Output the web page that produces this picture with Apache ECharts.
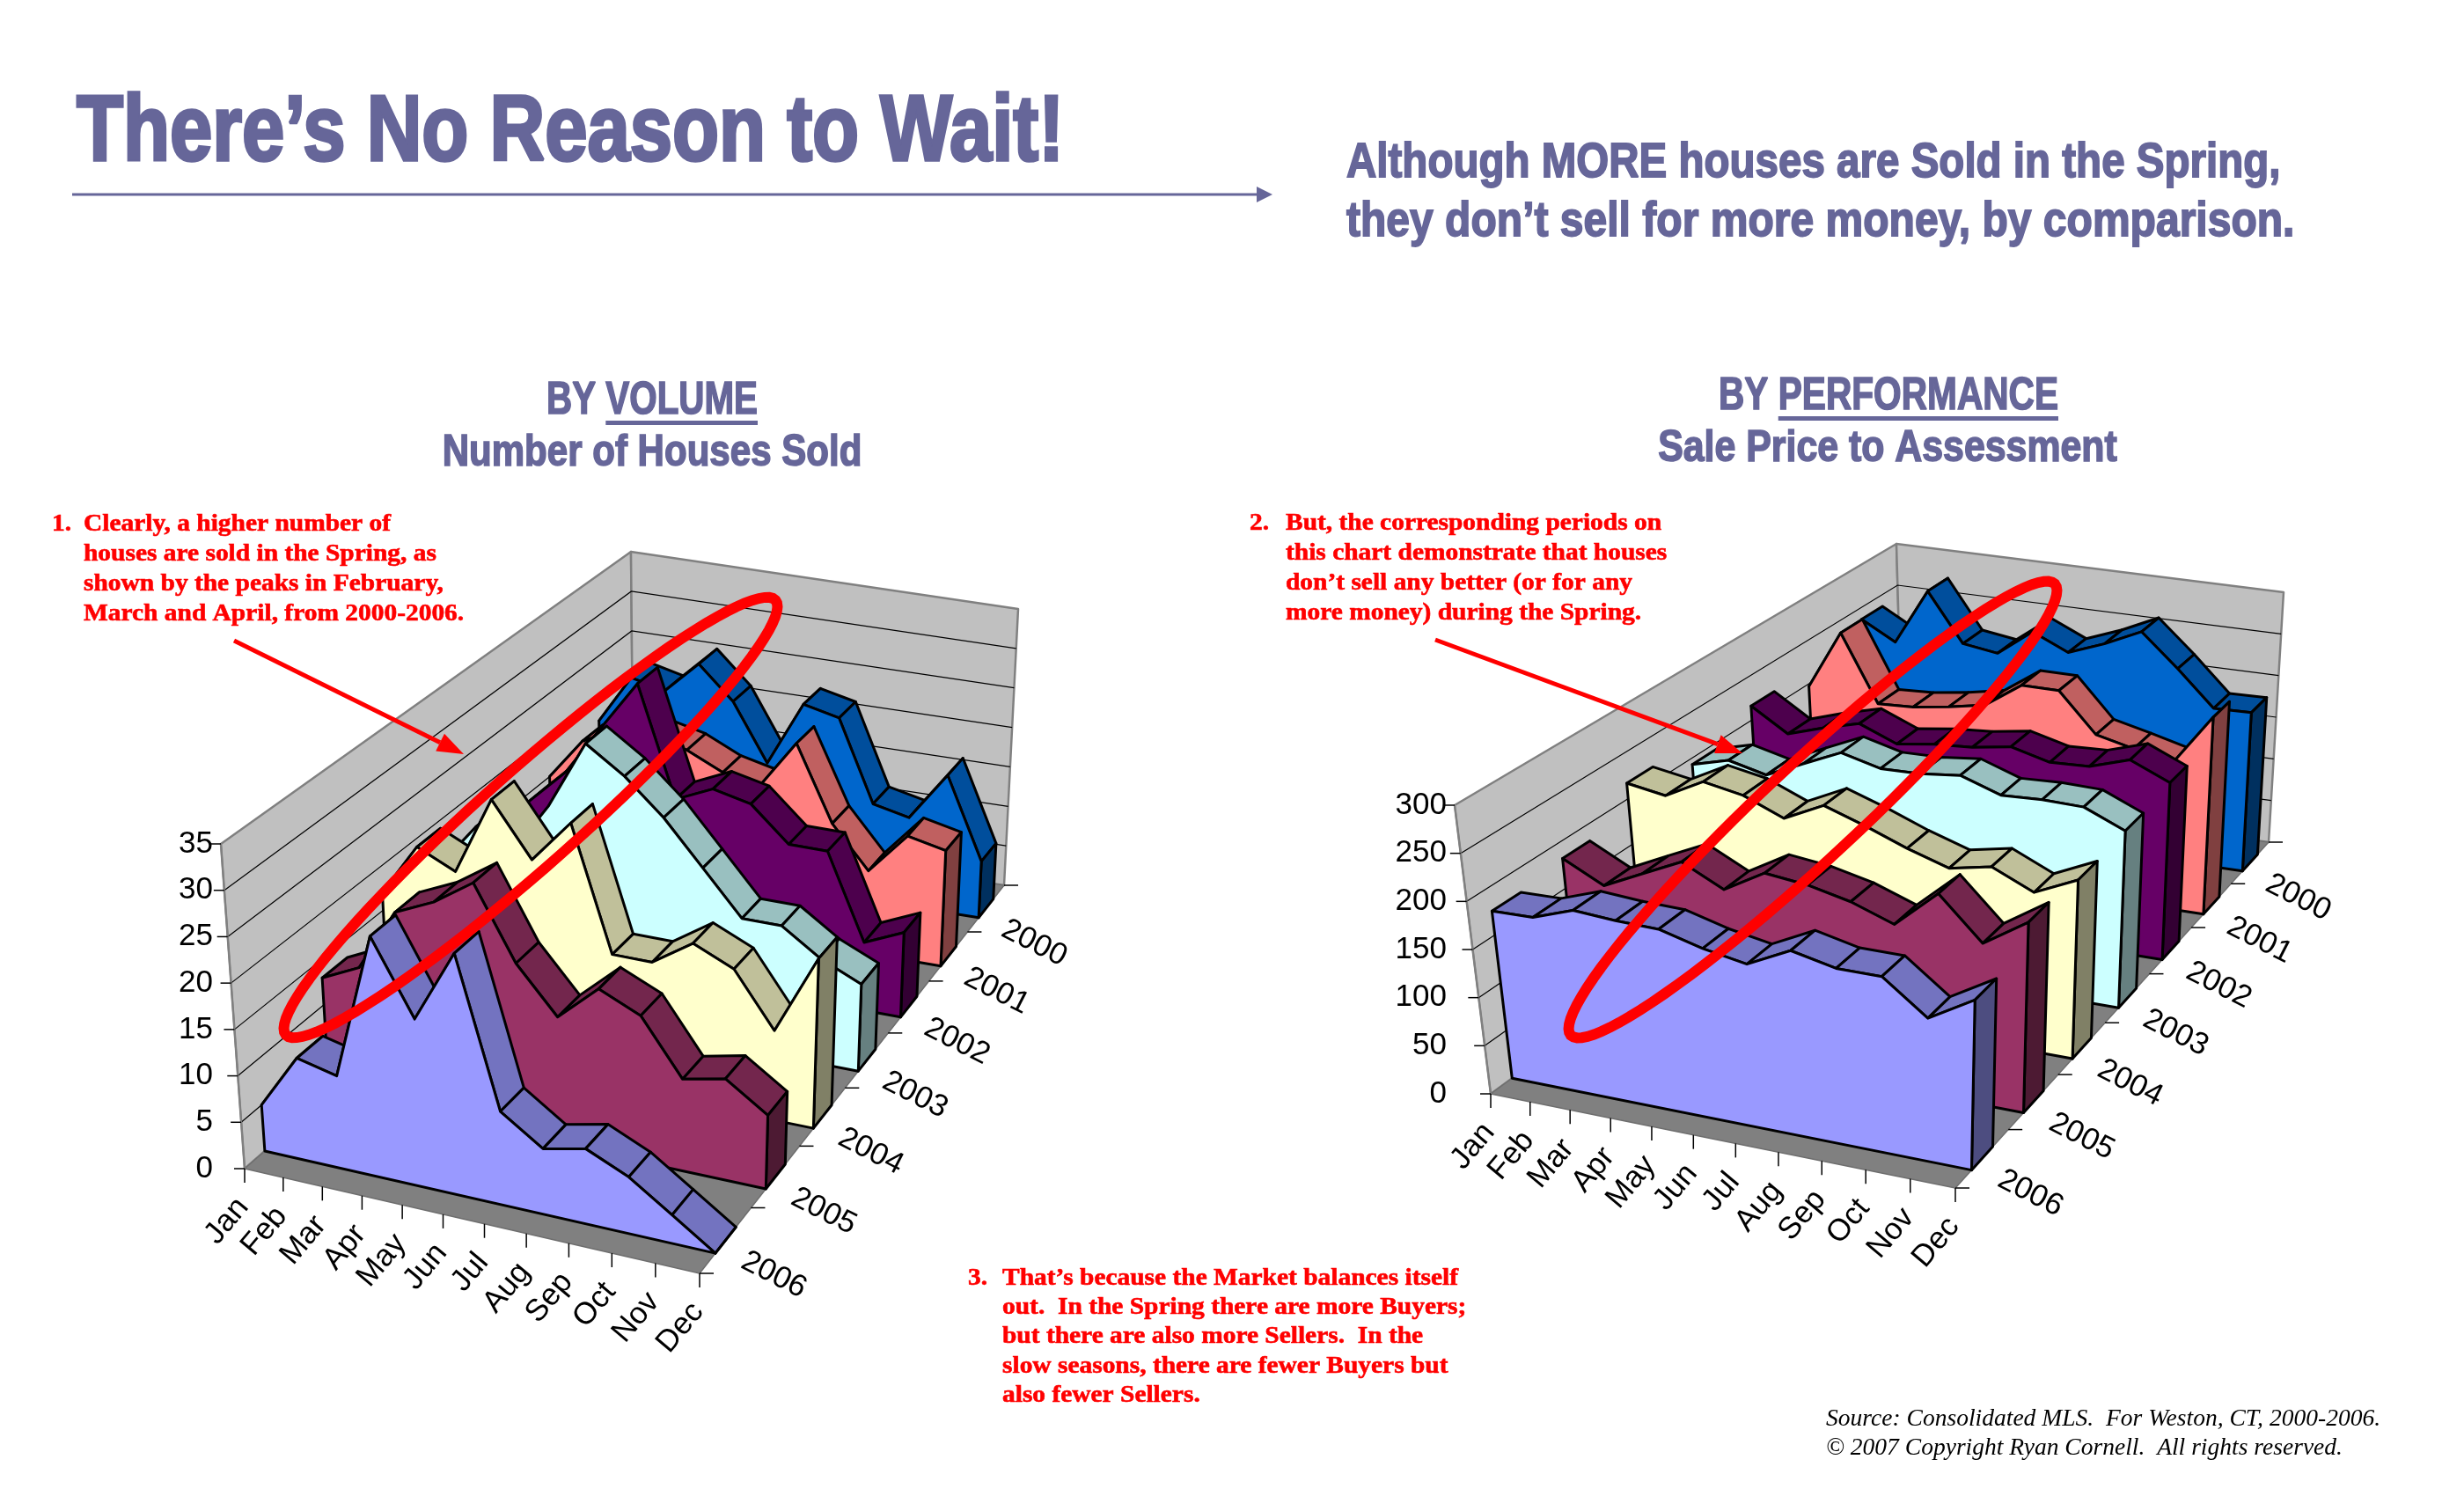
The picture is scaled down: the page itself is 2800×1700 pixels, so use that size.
<!DOCTYPE html>
<html>
<head>
<meta charset="utf-8">
<script src="https://cdn.jsdelivr.net/npm/echarts@6/dist/echarts.min.js"></script>
<style>html,body{margin:0;padding:0;background:#fff}#c{width:2800px;height:1700px}</style>
</head>
<body>
<div id="c"></div>
<script>
// ---------------- DATA ----------------
const months = ['Jan','Feb','Mar','Apr','May','Jun','Jul','Aug','Sep','Oct','Nov','Dec'];
const years = ['2000','2001','2002','2003','2004','2005','2006'];
const volumeTicks = [0,5,10,15,20,25,30,35];
const ratioTicks = [0,50,100,150,200,250,300];

// Number of houses sold
const vol2000 = [17, 23, 22, 26, 22, 15, 23, 22, 12, 11, 17, 7];
const vol2001 = [15, 20, 22, 22, 21, 19, 18, 24, 15, 10, 15, 14];
const vol2002 = [14, 18, 22, 28, 34, 21, 23, 22, 18, 18, 8, 10];
const vol2003 = [15, 20, 18, 24, 32, 29, 25, 20, 15, 15, 12, 10];
const vol2004 = [17, 23, 21, 30, 24, 29, 15, 15, 18, 16, 10, 19];
const vol2005 = [13, 15, 22, 24, 27, 19, 14, 18, 16, 10, 11, 8];
const vol2006 = [5, 11, 10, 26, 18, 26, 10, 7, 8, 6, 3, 0];

// Sale price to assessment
const ratio2000 = [236, 214, 280, 223, 217, 248, 229, 245, 265, 227, 186, 187];
const ratio2001 = [197, 265, 188, 190, 196, 204, 233, 233, 188, 178, 167, 227];
const ratio2002 = [216, 190, 203, 214, 197, 203, 206, 213, 202, 204, 218, 199];
const ratio2003 = [193, 204, 194, 213, 232, 221, 222, 227, 212, 214, 213, 194];
const ratio2004 = [217, 210, 232, 224, 206, 227, 212, 195, 181, 190, 170, 191];
const ratio2005 = [182, 160, 180, 200, 178, 203, 198, 188, 172, 212, 168, 198];
const ratio2006 = [175, 176, 191, 188, 187, 175, 167, 189, 179, 179, 145, 172];

const volumeSeries = [vol2000, vol2001, vol2002, vol2003, vol2004, vol2005, vol2006];
const ratioSeries = [ratio2000, ratio2001, ratio2002, ratio2003, ratio2004, ratio2005, ratio2006];

// ---------------- STYLE / LAYOUT ----------------
const PALETTE = [
  {main:'#0066CC', top:'#004E9C', side:'#00305F'},
  {main:'#FF8080', top:'#C06060', side:'#804040'},
  {main:'#660066', top:'#4D004D', side:'#330033'},
  {main:'#CCFFFF', top:'#99C0C0', side:'#668080'},
  {main:'#FFFFCC', top:'#C0C09A', side:'#808066'},
  {main:'#993366', top:'#73264D', side:'#4D1A33'},
  {main:'#9999FF', top:'#7373C0', side:'#4D4D80'}
];
// box corners of each 3D plot (F=front,B=back,L=Jan side,R=Dec side; 0=floor,1=top)
const GEOM = {
  vol:  {FL0:[278,1328], FL1:[251,959], FR0:[795,1447], FR1:[803,1067], BL0:[720,942], BL1:[717,627], BR0:[1141,1006], BR1:[1157,692]},
  perf: {FL0:[1694,1243], FL1:[1653,915], FR0:[2222,1350], FR1:[2228,1010], BL0:[2163,900], BL1:[2155,618], BR0:[2578,957], BR1:[2595,673]}
};
const AXIS_X = {vol:258, perf:1660};
const DEPTH_PERSP = 0.22, MONTH_PERSP = 0.08;
const ROW_FRONT = 0.3, ROW_BACK = 0.7;
const AXIS_FONT = '35px "Liberation Sans", Arial, sans-serif';

function makeP(g){
  function bil(p00,p10,p01,p11,us,ws){
    return [0,1].map(j => (1-us)*(1-ws)*p00[j] + us*(1-ws)*p10[j] + (1-us)*ws*p01[j] + us*ws*p11[j]);
  }
  return function(u,w,h){
    const us = u*(1+MONTH_PERSP*u)/(1+MONTH_PERSP);
    const ws = w*(1+DEPTH_PERSP)/(1+DEPTH_PERSP*w);
    const a = bil(g.FL0,g.FR0,g.BL0,g.BR0,us,ws);
    const b = bil(g.FL1,g.FR1,g.BL1,g.BR1,us,ws);
    return [a[0]+h*(b[0]-a[0]), a[1]+h*(b[1]-a[1])];
  };
}
function poly(pts, fill, stroke, lw){
  return {type:'polygon', shape:{points:pts}, style:{fill:fill, stroke:stroke||'#000', lineWidth:lw==null?3:lw, lineJoin:'round'}};
}
function seg(p, q, stroke, lw){
  return {type:'line', shape:{x1:p[0],y1:p[1],x2:q[0],y2:q[1]}, style:{stroke:stroke||'#000', lineWidth:lw||1}};
}

function slabSeries(key, gi, yi, values, ticks){
  const P = makeP(GEOM[key]);
  const pal = PALETTE[yi];
  const row = years.length-1-yi;
  const max = ticks[ticks.length-1];
  return {
    type:'custom', name:years[yi], xAxisIndex:gi, yAxisIndex:gi, clip:false, silent:true, z:2+yi,
    data: values.map((v,i)=>[i,v]),
    encode:{x:0,y:1},
    renderItem(params, api){
      if (params.dataIndexInside !== 0) return null;
      const n = params.dataInsideLength;
      const c0 = api.coord([0,0]), cL = api.coord([n-1,0]), cM = api.coord([0,max]);
      const wf = (row+ROW_FRONT)/7, wb = (row+ROW_BACK)/7;
      const F=[],B=[],Fb=[],Bb=[];
      for (let i=0;i<n;i++){
        const c = api.coord([api.value(0,i), api.value(1,i)]);
        const u = (c[0]-c0[0])/(cL[0]-c0[0]);
        const h = (c0[1]-c[1])/(c0[1]-cM[1]);
        F.push(P(u,wf,h)); B.push(P(u,wb,h)); Fb.push(P(u,wf,0)); Bb.push(P(u,wb,0));
      }
      const ch = [];
      for (let i=0;i<n-1;i++) ch.push(poly([F[i],F[i+1],B[i+1],B[i]], pal.top));
      ch.push(poly([F[n-1],B[n-1],Bb[n-1],Fb[n-1]], pal.side));
      ch.push(poly([Fb[0]].concat(F,[Fb[n-1]]), pal.main));
      return {type:'group', children:ch};
    }
  };
}

function frameSeries(key, gi, ticks){
  const P = makeP(GEOM[key]);
  const max = ticks[ticks.length-1];
  return {
    type:'custom', xAxisIndex:gi, yAxisIndex:gi, clip:false, silent:true, z:1,
    data: years.map((y,i)=>[0,0]),
    renderItem(params, api){
      const i = params.dataIndex;
      const c0 = api.coord([0,0]), cM = api.coord([0,max]);
      const hOf = v => (c0[1]-api.coord([0,v])[1])/(c0[1]-cM[1]);
      const ch = [];
      if (i === 0){
        ch.push(poly([P(0,0,0),P(0,1,0),P(0,1,1),P(0,0,1)], '#C0C0C0', '#808080', 2.5));
        ch.push(poly([P(0,1,0),P(1,1,0),P(1,1,1),P(0,1,1)], '#C0C0C0', '#808080', 2.5));
        ticks.forEach(t => {
          if (t <= 0 || t >= max) return;
          const h = hOf(t);
          ch.push({type:'polyline', shape:{points:[P(0,0,h),P(0,1,h),P(1,1,h)]}, style:{stroke:'#000', lineWidth:1.2, fill:null}});
        });
        ch.push(poly([P(0,0,0),P(1,0,0),P(1,1,0),P(0,1,0)], '#808080', '#6E6E6E', 1.5));
        ch.push(seg(P(0,0,0), P(0,0,1), '#808080', 2));
        ticks.forEach(t => {
          const p = P(0,0,hOf(t));
          ch.push(seg([p[0]-12,p[1]], p, '#000', 1.5));
        });
        for (let k=0;k<=years.length;k++){
          const p = P(1,k/7,0);
          ch.push(seg(p, [p[0]+16,p[1]], '#000', 1.5));
        }
      }
      const row = years.length-1-i;
      const p = P(1,(row+0.5)/7,0);
      ch.push({type:'text', x:p[0]+20, y:p[1]+22, rotation:-27*Math.PI/180,
        style:{text:years[i], font:AXIS_FONT, fill:'#000', align:'left', verticalAlign:'middle'}});
      return {type:'group', children:ch};
    }
  };
}

function monthSeries(key, gi){
  const P = makeP(GEOM[key]);
  return {
    type:'custom', xAxisIndex:gi, yAxisIndex:gi, clip:false, silent:true, z:1,
    data: months.map((m,i)=>[i,0]),
    renderItem(params, api){
      const n = params.dataInsideLength;
      const c0 = api.coord([0,0]), cL = api.coord([n-1,0]);
      const c = api.coord([api.value(0), 0]);
      const u = (c[0]-c0[0])/(cL[0]-c0[0]);
      const p = P(u,0,0);
      return {type:'group', children:[
        seg(p, [p[0], p[1]+16], '#000', 1.5),
        {type:'text', x:p[0]-2, y:p[1]+38, rotation:50*Math.PI/180,
          style:{text:months[params.dataIndex], font:AXIS_FONT, fill:'#000', align:'right', verticalAlign:'middle'}}
      ]};
    }
  };
}

function gridFor(key){
  const g = GEOM[key];
  return {left:AXIS_X[key], top:g.FL1[1], height:g.FL0[1]-g.FL1[1], width:500, containLabel:false, outerBoundsMode:'none'};
}
function yAxisFor(gi, ticks){
  return {type:'value', gridIndex:gi, min:ticks[0], max:ticks[ticks.length-1], interval:ticks[1]-ticks[0],
    axisLine:{show:false}, axisTick:{show:false}, splitLine:{show:false},
    axisLabel:{fontSize:35, color:'#000', fontFamily:'"Liberation Sans", Arial, sans-serif', margin:16}};
}
function xAxisFor(gi){
  return {type:'category', gridIndex:gi, data:months, boundaryGap:false, show:false};
}

// ---------------- ANNOTATIONS ----------------
const TITLE_COLOR = '#666699';
const SANS = '"Liberation Sans", Arial, sans-serif';
const SERIF = '"Liberation Serif", "DejaVu Serif", serif';
function tw(font, text){
  const ctx = document.createElement('canvas').getContext('2d');
  ctx.font = font; return ctx.measureText(text).width;
}
function txt(x, baseline, text, font, size, fill, align, sx, strokeW){
  const style = {text:text, font:font, fill:fill, align:align||'left', verticalAlign:'middle'};
  if (strokeW) { style.stroke = fill; style.lineWidth = strokeW; }
  return {type:'text', x:x, y:baseline - 0.34*size, z:100, silent:true, scaleX:sx||1, style:style};
}
// heavy condensed title text: Liberation Sans Bold squeezed to the reference width
function narrow(x, baseline, text, size, width, align, strokeW){
  const f = 'bold '+size+'px '+SANS;
  return txt(x, baseline, text, f, size, TITLE_COLOR, align, width/(tw(f,text)+(strokeW||0)), strokeW);
}
function ellipsePts(cx, cy, rx, ry, deg){
  const a = deg*Math.PI/180, pts=[];
  for (let i=0;i<96;i++){
    const t = i/96*2*Math.PI, x = rx*Math.cos(t), y = ry*Math.sin(t);
    pts.push([cx + x*Math.cos(a) + y*Math.sin(a), cy - x*Math.sin(a) + y*Math.cos(a)]);
  }
  return pts;
}
function arrow(x1,y1,x2,y2,color,lw,len,wid){
  const ang = Math.atan2(y2-y1,x2-x1), bx = x2-len*Math.cos(ang), by = y2-len*Math.sin(ang);
  const nx = -Math.sin(ang)*wid/2, ny = Math.cos(ang)*wid/2;
  return [
    {type:'line', z:100, silent:true, shape:{x1:x1,y1:y1,x2:bx,y2:by}, style:{stroke:color, lineWidth:lw}},
    {type:'polygon', z:100, silent:true, shape:{points:[[x2,y2],[bx+nx,by+ny],[bx-nx,by-ny]]}, style:{fill:color}}
  ];
}
function headed(x0, baseline, pre, under, size, width, ulY, strokeW){
  const f = 'bold '+size+'px '+SANS;
  const w1 = tw(f, pre), w2 = tw(f, under), s = width/(w1+w2);
  return [
    txt(x0, baseline, pre, f, size, TITLE_COLOR, 'left', s, strokeW),
    txt(x0+w1*s, baseline, under, f, size, TITLE_COLOR, 'left', s, strokeW),
    {type:'rect', z:100, silent:true, shape:{x:x0+w1*s, y:ulY, width:w2*s, height:5}, style:{fill:TITLE_COLOR}}
  ];
}

const RED_SIZE = 27, RED_SX = 1.09;
const RED_F = 'bold '+RED_SIZE+'px '+SERIF;
const note1 = ['Clearly, a higher number of','houses are sold in the Spring, as','shown by the peaks in February,','March and April, from 2000-2006.'];
const note2 = ['But, the corresponding periods on','this chart demonstrate that houses','don\u2019t sell any better (or for any','more money) during the Spring.'];
const note3 = ['That\u2019s because the Market balances itself','out.  In the Spring there are more Buyers;','but there are also more Sellers.  In the','slow seasons, there are fewer Buyers but','also fewer Sellers.'];
function note(num, lines, xNum, xText, base0, step){
  const out = [txt(xNum, base0, num, RED_F, RED_SIZE, '#FF0000', 'left', RED_SX, 0.6)];
  lines.forEach((l,i)=> out.push(txt(xText, base0+i*step, l, RED_F, RED_SIZE, '#FF0000', 'left', RED_SX, 0.6)));
  return out;
}

const graphics = [].concat(
  [narrow(87, 189, 'There\u2019s No Reason to Wait!', 105, 1125, 'left', 3.5)],
  [{type:'line', z:100, silent:true, shape:{x1:82,y1:221,x2:1432,y2:221}, style:{stroke:TITLE_COLOR, lineWidth:3}},
   {type:'polygon', z:100, silent:true, shape:{points:[[1428,212],[1446,221],[1428,230]]}, style:{fill:TITLE_COLOR}}],
  [narrow(1530, 205, 'Although MORE houses are Sold in the Spring,', 56, 1063, 'left', 1.8),
   narrow(1530, 272, 'they don\u2019t sell for more money, by comparison.', 56, 1079, 'left', 1.8)],
  headed(621, 473, 'BY ', 'VOLUME', 52, 240, 478, 1.6),
  [narrow(741, 532, 'Number of Houses Sold', 50, 478, 'center', 1.6)],
  headed(1953, 468, 'BY ', 'PERFORMANCE', 52, 386, 473, 1.6),
  [narrow(2145, 527, 'Sale Price to Assessment', 50, 523, 'center', 1.6)],
  note('1.', note1, 59, 95, 605, 34),
  note('2.', note2, 1420, 1461, 604, 34),
  note('3.', note3, 1100, 1139, 1462, 33.3),
  [txt(2075, 1622, 'Source: Consolidated MLS.  For Weston, CT, 2000-2006.', 'italic 27px '+SERIF, 27, '#000', 'left', 1.02),
   txt(2075, 1655, '\u00A9 2007 Copyright Ryan Cornell.  All rights reserved.', 'italic 27px '+SERIF, 27, '#000', 'left', 1.02)],
  [{type:'polygon', z:101, silent:true, shape:{points:ellipsePts(603,929,372,54,41.6)}, style:{fill:null, stroke:'#FF0000', lineWidth:12}},
   {type:'polygon', z:101, silent:true, shape:{points:ellipsePts(2060,920,376,54,43)}, style:{fill:null, stroke:'#FF0000', lineWidth:12}}],
  arrow(266,728,527,857,'#FF0000',5,30,22),
  arrow(1631,727,1980,856,'#FF0000',5,30,22)
);

// ---------------- CHART ----------------
const chart = echarts.init(document.getElementById('c'), null, {renderer:'canvas', width:2800, height:1700});
const series = [frameSeries('vol',0,volumeTicks), monthSeries('vol',0), frameSeries('perf',1,ratioTicks), monthSeries('perf',1)];
volumeSeries.forEach((vals,yi)=> series.push(slabSeries('vol',0,yi,vals,volumeTicks)));
ratioSeries.forEach((vals,yi)=> series.push(slabSeries('perf',1,yi,vals,ratioTicks)));

chart.setOption({
  backgroundColor:'#FFFFFF',
  animation:false,
  grid:[gridFor('vol'), gridFor('perf')],
  xAxis:[xAxisFor(0), xAxisFor(1)],
  yAxis:[yAxisFor(0,volumeTicks), yAxisFor(1,ratioTicks)],
  series:series,
  graphic:{elements:graphics}
});
</script>
</body>
</html>
